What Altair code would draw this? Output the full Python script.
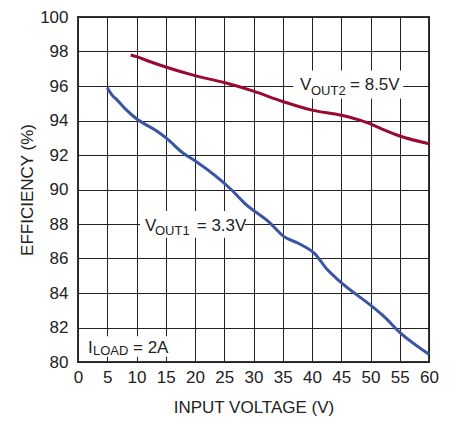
import altair as alt
import pandas as pd

# data
vin_out2 = [9, 10, 12, 15, 20, 25, 30, 35, 40, 45, 48.8, 50, 52, 55, 60]
eff_out2 = [97.8, 97.7, 97.45, 97.1, 96.6, 96.2, 95.7, 95.1, 94.6, 94.3, 93.95, 93.8, 93.5, 93.1, 92.65]

vin_out1 = [5, 6, 6.5, 8, 10, 13.4, 15.2, 18, 20.3, 26, 28.5, 32.8, 35.1, 37.9, 40.5, 42.5, 44.8, 50.2, 52.2, 55, 60]
eff_out1 = [95.9, 95.4, 95.25, 94.7, 94.1, 93.4, 92.95, 92.1, 91.6, 90.06, 89.2, 88.07, 87.3, 86.84, 86.27, 85.4, 84.66, 83.24, 82.67, 81.72, 80.45]

x_ticks = list(range(0, 61, 5))
y_ticks = list(range(80, 101, 2))

# annotation pieces: text, x, y, size
label_text = ["V", "OUT2", "= 8.5V", "V", "OUT1", "= 3.3V", "I", "LOAD", "= 2A"]
label_x = [37.95, 39.83, 46.5, 11.45, 13.16, 20.3, 1.7, 2.56, 9.4]
label_y = [95.74, 95.45, 95.74, 87.6, 87.37, 87.6, 80.5, 80.4, 80.5]
label_size = [17, 13, 17, 17, 13, 17, 17, 13, 17]

box_x = [36.8, 10.6, 0.25]
box_x2 = [55.6, 28.5, 16.6]
box_y = [95.27, 87.2, 80.3]
box_y2 = [96.9, 88.75, 81.5]

FONT = "Liberation Sans"
TXT = "#222"

df = pd.concat([
    pd.DataFrame({"vin": vin_out2, "eff": eff_out2, "series": "VOUT2"}),
    pd.DataFrame({"vin": vin_out1, "eff": eff_out1, "series": "VOUT1"}),
])
labels = pd.DataFrame({"t": label_text, "vin": label_x, "eff": label_y, "s": label_size})
boxes = pd.DataFrame({"vin": box_x, "vin2": box_x2, "eff": box_y, "eff2": box_y2})

xs = alt.Scale(domain=[0, 60], nice=False)
ys = alt.Scale(domain=[80, 100], nice=False)

x_axis = alt.Axis(
    values=x_ticks, title="INPUT VOLTAGE (V)", ticks=False, domain=False,
    labelOverlap=False, labelFlush=False, labelPadding=7, labelFontSize=17, labelFont=FONT, labelColor=TXT,
    titleFont=FONT, titleFontSize=17, titleFontWeight="normal", titleColor=TXT,
    titleBaseline="alphabetic", titleY=50,
    grid=True, gridColor="#222", gridWidth=1, gridOpacity=1)
y_axis = alt.Axis(
    values=y_ticks, title="EFFICIENCY (%)", ticks=False, domain=False,
    labelOverlap=False, labelFlush=False, labelPadding=10, labelFontSize=17, labelFont=FONT, labelColor=TXT,
    titleFont=FONT, titleFontSize=17, titleFontWeight="normal", titleColor=TXT,
    titleBaseline="alphabetic", titleX=-46,
    grid=True, gridColor="#222", gridWidth=1, gridOpacity=1)

X = alt.X("vin:Q", scale=xs, axis=x_axis)
Y = alt.Y("eff:Q", scale=ys, axis=y_axis)

rects = alt.Chart(boxes).mark_rect(color="white").encode(
    x=X, x2="vin2:Q", y=Y, y2="eff2:Q")

lines = alt.Chart(df).mark_line(strokeWidth=3, interpolate="monotone").encode(
    x=X, y=Y, detail="series:N",
    color=alt.Color("series:N", scale=alt.Scale(domain=["VOUT2", "VOUT1"], range=["#9a0a30", "#3a55a6"]), legend=None),
    order=alt.Order("vin:Q"))

texts = alt.Chart(labels).mark_text(align="left", baseline="alphabetic", font=FONT, color=TXT).encode(
    x=X, y=Y, text="t:N",
    size=alt.Size("s:Q", scale=None, legend=None))

chart = alt.layer(rects, lines, texts).properties(
    width=351, height=345, autosize="none", background="white",
    padding={"left": 70, "top": 9, "right": 18, "bottom": 58},
).configure_view(stroke="#333", strokeWidth=2)

chart.save("out.html", embed_options={"renderer": "svg", "actions": False})
